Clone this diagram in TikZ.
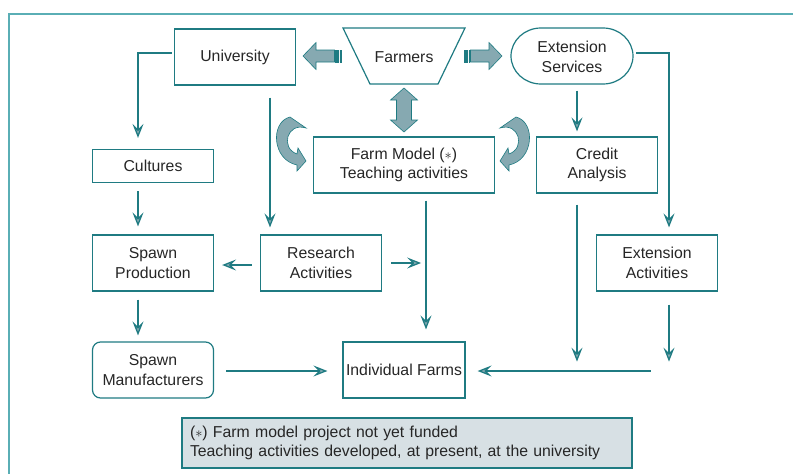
\documentclass[tikz,border=0pt]{standalone}
\usepackage{fontspec}
\setmainfont{Liberation Sans}
\usetikzlibrary{arrows.meta, calc}
\definecolor{fmteal}{HTML}{1F7B82}
\definecolor{fmframe}{HTML}{5AAEB5}
\definecolor{fmblock}{HTML}{86A9B1}
\definecolor{fmnote}{HTML}{D7E0E4}
\definecolor{fmtext}{HTML}{262626}
\tikzset{
  >={Stealth[length=14pt, width=11pt, inset=5.5pt, fill=fmblock]},
  every picture/.style={line join=miter, font=\fontsize{15.8}{19.5}\selectfont},
  frame/.style={fmframe, line width=2.2pt},
  box/.style={draw=fmteal, line width=1.2pt, text=fmtext, align=center, inner sep=0pt,
    minimum width=121pt, minimum height=56pt},
  outline/.style={draw=fmteal, line width=1.2pt},
  link/.style={fmteal, line width=1.3pt, ->},
  block/.style={fill=fmblock, draw=fmteal, line width=0.6pt},
  stripe/.style={fill=fmblock, draw=fmteal, line width=0.4pt},
  % striped block arrow, pointing right, tail at the origin (sizes in px)
  blockarrow/.pic={
    \path[block] (6.5,-6) -- (25,-6) -- (25,-13.5) -- (38,0) -- (25,13.5) -- (25,6) -- (6.5,6) -- cycle;
    \path[stripe] (0,-6) rectangle (1.2,6) (2.4,-6) rectangle (3.6,6) (4.8,-6) rectangle (5.6,6);
  },
  % curved arrow at the left of the farm model box
  bendarrow/.pic={
    \path[block] (306,128) .. controls (287,122) and (280,148) .. (297,154)
      -- (298,148) -- (306,161) -- (297,171) -- (297,165)
      .. controls (272,160) and (270,122) .. (290,117) -- cycle;
  },
}
\begin{document}
\begin{tikzpicture}[x=1pt, y=-1pt]
  \useasboundingbox (0,0) rectangle (793,474);
  % ---------- frame (open to the right and below)
  \draw[frame] (9,474) -- (9,14) -- (793,14);

  % ---------- top row
  \node[box] (univ) at (235,57) {University};
  \draw[outline] (343,28) -- (465,28) -- (438,84) -- (370,84) -- cycle;
  \node[box, draw=none] (farmers) at (404,57) {Farmers};
  \draw[outline] (541,28) -- (603,28) arc[start angle=-90, end angle=90, x radius=30, y radius=28]
    -- (541,84) arc[start angle=90, end angle=270, x radius=30, y radius=28] -- cycle;
  \node[box, draw=none] (extserv) at (572,57) {Extension\\Services};

  % block arrows from the farmers
  \pic[rotate=180] at (341,56) {blockarrow};
  \pic at (464,56) {blockarrow};
  \path[block] (404,88) -- (417.5,100) -- (411.5,100) -- (411.5,120) -- (417.5,120) -- (404,132)
    -- (390.5,120) -- (396.5,120) -- (396.5,100) -- (390.5,100) -- cycle;
  \pic {bendarrow};
  \pic[xscale=-1] at (806,0) {bendarrow};

  % ---------- boxes
  \node[box, minimum width=181pt] (farmmodel) at (404,165) {Farm Model ($\ast$)\\Teaching activities};
  \node[box] (credit) at (597,165) {Credit\\Analysis};
  \node[box, minimum height=33pt] (cultures) at (153,166) {Cultures};
  \node[box] (spawnprod) at (153,263) {Spawn\\Production};
  \node[box] (research) at (321,263) {Research\\Activities};
  \node[box] (extact) at (657,263) {Extension\\Activities};
  \node[box, rounded corners=8pt] (spawnman) at (153,370) {Spawn\\Manufacturers};
  \node[box, minimum width=122pt] (indfarms) at (404,370) {Individual Farms};

  % ---------- connectors
  \draw[link] ($(univ.west)+(-2,-4)$) -| ($(cultures.north)+(-15,-11)$);
  \draw[link] ($(cultures.south)+(-15,8)$) -- ($(spawnprod.north)+(-15,-8)$);
  \draw[link] ($(spawnprod.south)+(-15,8)$) -- ($(spawnman.north)+(-15,-6)$);
  \draw[link] ($(univ.south)+(35,12)$) -- ($(research.north)+(-51,-7)$);
  \draw[link] ($(research.west)+(-8,2)$) -- ($(spawnprod.east)+(8,2)$);
  \draw[link] ($(research.east)+(9,0)$) -- ++(30,0);
  \draw[link] ($(farmmodel.south)+(22,7)$) -- ($(indfarms.north)+(22,-12)$);
  \draw[link] ($(extserv.south)+(5,5)$) -- ($(credit.north)+(-20,-5)$);
  \draw[link] ($(credit.south)+(-20,11)$) -- ++(0,157);
  \draw[link] ($(extserv.east)+(3,-4)$) -| ($(extact.north)+(12,-7)$);
  \draw[link] ($(extact.south)+(12,13)$) -- ++(0,57);
  \draw[link] ($(indfarms.east)+(185,1)$) -- ($(indfarms.east)+(12,1)$);
  \draw[link] ($(spawnman.east)+(12,1)$) -- ($(indfarms.west)+(-15,1)$);

  % ---------- footnote
  \node[outline, fill=fmnote, text=fmtext, align=left, text width=434pt, inner xsep=8pt,
    minimum height=50pt] (note) at (407,443)
    {($\ast$) Farm model project not yet funded\\Teaching activities developed, at present, at the university};
\end{tikzpicture}
\end{document}
